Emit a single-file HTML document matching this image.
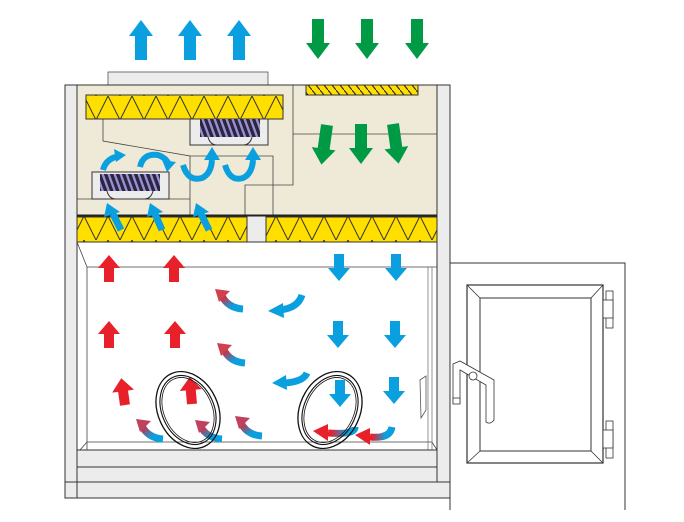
<!DOCTYPE html>
<html><head><style>html,body{margin:0;padding:0;background:#fff;width:684px;height:522px;overflow:hidden}</style></head>
<body>
<svg width="684" height="522" viewBox="0 0 684 522" xmlns="http://www.w3.org/2000/svg">
<defs>
<linearGradient id="g1" x1="1" y1="1" x2="0" y2="0"><stop offset="0.35" stop-color="#0aa0e0"/><stop offset="1" stop-color="#e8202a"/></linearGradient>
<linearGradient id="g2" x1="1" y1="0" x2="0" y2="0"><stop offset="0.3" stop-color="#0aa0e0"/><stop offset="0.9" stop-color="#e8202a"/></linearGradient>
<pattern id="zz" width="24" height="24" patternUnits="userSpaceOnUse"><path d="M0 24 L12 0 L24 24" fill="none" stroke="#333" stroke-width="1"/></pattern>
<pattern id="hatch" width="8" height="10" patternUnits="userSpaceOnUse"><path d="M0 0 L8 10" stroke="#333" stroke-width="1.2"/></pattern>
<pattern id="fan" width="6" height="20" patternUnits="userSpaceOnUse" patternTransform="skewX(20)"><rect width="6" height="20" fill="#2a2540"/><rect x="2" width="2.5" height="20" fill="#9b8fd0"/></pattern>
<path id="up" d="M-6 0 L-6 -24 L-12 -24 L0 -40 L12 -24 L6 -24 L6 0 Z"/>
<path id="dn" d="M-6 0 L-6 24 L-12 24 L0 40 L12 24 L6 24 L6 0 Z"/>
<path id="su" d="M-5 0 L-5 -14 L-11 -14 L0 -27 L11 -14 L5 -14 L5 0 Z"/>
<path id="sd" d="M-5 0 L-5 14 L-11 14 L0 27 L11 14 L5 14 L5 0 Z"/>
</defs>
<g fill="#0aa0e0"><use href="#up" x="141" y="60"/><use href="#up" x="190" y="60"/><use href="#up" x="239" y="60"/></g>
<g fill="#009a44"><use href="#dn" x="318" y="19"/><use href="#dn" x="367" y="19"/><use href="#dn" x="417" y="19"/></g>
<rect x="108" y="72" width="160" height="13" fill="#ececec" stroke="#555" stroke-width="0.8"/>
<rect x="65" y="85" width="385" height="413" fill="#ececec" stroke="#333" stroke-width="1"/>
<rect x="77" y="85" width="360" height="130" fill="#efe9d8" stroke="#333" stroke-width="1"/>
<rect x="306" y="85" width="112" height="10" fill="#ffdf00" stroke="#333"/>
<rect x="306" y="85" width="112" height="10" fill="url(#hatch)"/>
<rect x="86" y="95" width="197" height="24" fill="#ffdf00" stroke="#333"/>
<rect x="86" y="95" width="197" height="24" fill="url(#zz)"/>
<g fill="none" stroke="#444" stroke-width="0.8">
<path d="M103 119 L103 141 L190 156 L190 215"/>
<path d="M77 199 L190 199"/>
<path d="M190 156 L273 156 L273 215"/>
<path d="M245 215 L245 185 L293 185 L293 85"/>
<path d="M293 134 L437 134"/>
</g>
<rect x="190" y="119" width="78" height="26" fill="#ececec" stroke="#333"/>
<rect x="200" y="119" width="60" height="18" fill="url(#fan)"/>
<path d="M208 137 Q210 145 217 145 M252 137 Q250 145 243 145" fill="none" stroke="#333"/>
<rect x="92" y="172" width="77" height="27" fill="#ececec" stroke="#333"/>
<rect x="100" y="174" width="60" height="17" fill="url(#fan)"/>
<path d="M107 191 Q109 199 116 199 M153 191 Q151 199 144 199" fill="none" stroke="#333"/>
<g fill="none" stroke="#0aa0e0" stroke-width="6">
<path d="M103 170 Q106 158 120 156"/><path d="M140 167 Q143 153 158 155 Q166 158 168 163"/>
<path d="M183 165 Q188 182 202 178 Q211 174 212 160"/><path d="M225 165 Q230 182 243 178 Q252 174 253 160"/>
</g>
<g fill="#0aa0e0">
<path d="M114 149 L126 155 L116 162Z"/><path d="M162 160 L176 162 L167 172Z"/>
<path d="M204 160 L212 147 L220 160Z"/><path d="M245 160 L253 147 L261 160Z"/>
</g>
<g fill="#009a44">
<path transform="translate(327 125) rotate(8)" d="M-6 0 L-6 24 L-12 24 L0 40 L12 24 L6 24 L6 0 Z"/>
<use href="#dn" x="361" y="124"/>
<path transform="translate(393 124) rotate(-8)" d="M-6 0 L-6 24 L-12 24 L0 40 L12 24 L6 24 L6 0 Z"/>
</g>
<rect x="77" y="215" width="360" height="27" fill="#ececec" stroke="#333"/>
<line x1="77" y1="215.5" x2="437" y2="215.5" stroke="#222" stroke-width="2"/>
<rect x="77" y="217" width="170" height="25" fill="#ffdf00" stroke="#333"/>
<rect x="77" y="217" width="170" height="25" fill="url(#zz)"/>
<rect x="266" y="217" width="171" height="25" fill="#ffdf00" stroke="#333"/>
<rect x="266" y="217" width="171" height="25" fill="url(#zz)"/>
<!-- inlet arrows over filter -->
<g fill="none" stroke="#0aa0e0" stroke-width="7">
<path d="M121 230 L113 214"/><path d="M162 230 L155 214"/><path d="M209 230 L201 214"/>
</g>
<g fill="#0aa0e0">
<path d="M104 217 L107 203 L120 212Z"/><path d="M147 217 L150 203 L163 212Z"/><path d="M193 217 L196 203 L209 212Z"/>
</g>
<rect x="77" y="242" width="360" height="208" fill="#fff" stroke="#333"/>
<path d="M77 242 L87 267 L437 267 M87 267 L87 450 M80 450 L87 442 L432 442 L437 450" fill="none" stroke="#444" stroke-width="0.8"/>
<path d="M428 267 L428 450 M432 267 L432 450" fill="none" stroke="#666" stroke-width="0.7"/>
<rect x="77" y="450" width="360" height="17" fill="#ececec" stroke="#333"/>
<rect x="77" y="467" width="360" height="15" fill="#ececec" stroke="#333"/>
<rect x="65" y="482" width="385" height="16" fill="#ececec" stroke="#333"/>
<line x1="77" y1="482" x2="77" y2="498" stroke="#333"/>
<g fill="#e8202a">
<use href="#su" x="109" y="282"/><use href="#su" x="174" y="282"/>
<use href="#su" x="109" y="348"/><use href="#su" x="175" y="348"/>
<path transform="translate(125 405) rotate(-8)" d="M-5 0 L-5 -14 L-11 -14 L0 -27 L11 -14 L5 -14 L5 0 Z"/>
<path transform="translate(192 404) rotate(-5)" d="M-5 0 L-5 -14 L-11 -14 L0 -27 L11 -14 L5 -14 L5 0 Z"/>
</g>
<g fill="#0aa0e0">
<use href="#sd" x="339" y="254"/><use href="#sd" x="396" y="254"/>
<use href="#sd" x="338" y="321"/><use href="#sd" x="395" y="321"/>
<use href="#sd" x="340" y="380"/><use href="#sd" x="394" y="377"/>
</g>
<g fill="none" stroke-width="7">
<path d="M243 309 Q228 308 222 296" stroke="url(#g1)"/>
<path d="M245 363 Q230 362 224 350" stroke="url(#g1)"/>
<path d="M163 439 Q148 438 142 426" stroke="url(#g1)"/>
<path d="M222 439 Q207 438 201 427" stroke="url(#g1)"/>
<path d="M262 436 Q247 435 241 423" stroke="url(#g1)"/>
<path d="M302 295 Q298 308 280 310" stroke="#0aa0e0"/>
<path d="M307 373 Q303 382 284 383" stroke="#0aa0e0"/>
<path d="M355 427 Q355 435 328 433" stroke="url(#g2)"/>
<path d="M392 427 Q390 439 370 437" stroke="url(#g2)"/>
</g>
<g fill="#e8202a">
<path d="M215 289 L230 291 L219 302Z" fill="#d04050"/><path d="M217 343 L232 345 L221 356Z" fill="#d04050"/>
<path d="M136 419 L151 421 L140 432Z" fill="#c04060"/><path d="M195 420 L210 422 L199 433Z" fill="#c04060"/><path d="M235 416 L250 418 L239 429Z" fill="#c04060"/>
<path d="M313 431 L328 424 L328 441Z"/><path d="M355 435 L370 428 L370 445Z"/>
</g>
<g fill="#0aa0e0"><path d="M268 311 L283 303 L284 318Z"/><path d="M272 383 L286 375 L287 390Z"/></g>
<g fill="none" stroke="#111">
<ellipse cx="188" cy="410" rx="30" ry="40" transform="rotate(-25 188 410)" stroke-width="1.3"/>
<ellipse cx="188" cy="410" rx="26" ry="36" transform="rotate(-25 188 410)" stroke-width="1.1"/>
<ellipse cx="188" cy="410" rx="24" ry="34" transform="rotate(-25 188 410)" stroke-width="0.8"/>
<ellipse cx="330" cy="410" rx="30" ry="40" transform="rotate(25 330 410)" stroke-width="1.3"/>
<ellipse cx="330" cy="410" rx="26" ry="36" transform="rotate(25 330 410)" stroke-width="1.1"/>
<ellipse cx="330" cy="410" rx="24" ry="34" transform="rotate(25 330 410)" stroke-width="0.8"/>
</g>
<path d="M420 380 L426 376 L426 410 L421 418 Z" fill="#fff" stroke="#555" stroke-width="0.8"/>
<path d="M450 263 L625 263 L625 510" fill="none" stroke="#333" stroke-width="1"/>
<line x1="450" y1="263" x2="450" y2="510" stroke="#333"/>
<rect x="467" y="285" width="136" height="178" fill="#fff" stroke="#333" stroke-width="1.2"/>
<rect x="480" y="298" width="111" height="153" fill="#fff" stroke="#333" stroke-width="1"/>
<path d="M467 285 L480 298 M603 285 L591 298 M467 463 L480 451 M603 463 L591 451" stroke="#333" stroke-width="0.8"/>
<g fill="#fff" stroke="#333" stroke-width="0.8">
<rect x="606" y="291" width="7" height="37"/><rect x="603" y="300" width="10" height="18"/>
<rect x="606" y="421" width="7" height="37"/><rect x="603" y="430" width="10" height="18"/>
<path d="M453 364 L460 361 L494 380 L494 420 Q490 425 486 422 L486 385 L460 370 L460 403 L453 403 Z"/>
<rect x="453" y="398" width="7" height="6"/>
<circle cx="473" cy="376" r="4"/>
</g>
</svg>
</body></html>
